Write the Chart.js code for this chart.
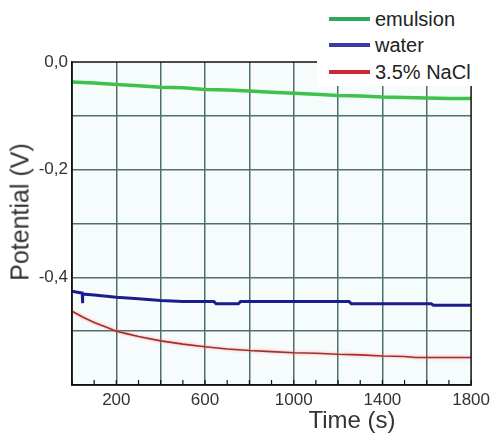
<!DOCTYPE html>
<html lang="en">
<head>
    <meta charset="UTF-8">
    <title>Potential vs time</title>
    <style>
        body {
            margin: 0;
            background: #ffffff;
            font-family: "Liberation Sans", Arial, sans-serif;
        }
        #wrap {
            position: relative;
            width: 495px;
            height: 436px;
        }
        .legend {
            position: absolute;
            left: 317px;
            top: 0;
            width: 178px;
            height: 86px;
            background: #ffffff;
        }
        .legend div {
            position: absolute;
            left: 12px;
            height: 22px;
            font-size: 20px;
            line-height: 22px;
            color: #222;
            white-space: nowrap;
        }
        .legend span {
            display: inline-block;
            width: 41px;
            height: 4px;
            vertical-align: middle;
            margin-right: 5px;
            margin-top: -3px;
        }
        .ytitle {
            position: absolute;
            left: 20px;
            top: 212px;
            transform: translate(-50%, -50%) rotate(-90deg);
            font-size: 25px;
            color: #333;
            white-space: nowrap;
        }
        .xtitle {
            position: absolute;
            left: 352px;
            top: 420px;
            transform: translate(-50%, -50%);
            font-size: 24px;
            color: #333;
            white-space: nowrap;
        }
    </style>
    <script src="https://cdn.jsdelivr.net/npm/chart.js"></script>
</head>
<body>
<div id="wrap">
    <canvas id="potentialChart" width="495" height="436"></canvas>
    <div class="legend" id="legend"></div>
    <div class="ytitle">Potential (V)</div>
    <div class="xtitle">Time (s)</div>
</div>

<script>
    // data (time in s, potential in V)
    const emulsionTime = [0, 100, 200, 300, 400, 500, 600, 700, 800, 900, 1000, 1100, 1200, 1300, 1400, 1500, 1600, 1700, 1800];
    const emulsionPot = [-0.037, -0.039, -0.042, -0.044, -0.047, -0.048, -0.051, -0.052, -0.054, -0.056, -0.058, -0.060, -0.062, -0.063, -0.065, -0.066, -0.067, -0.068, -0.068];

    const waterTime = [0, 30, 46, 47, 49, 100, 200, 300, 400, 500, 640, 650, 750, 760, 1000, 1250, 1260, 1620, 1630, 1800];
    const waterPot = [-0.426, -0.428, -0.429, -0.448, -0.431, -0.433, -0.437, -0.440, -0.443, -0.445, -0.445, -0.449, -0.449, -0.445, -0.445, -0.445, -0.449, -0.449, -0.452, -0.452];

    const naclTime = [0, 50, 100, 150, 200, 250, 300, 400, 500, 600, 700, 800, 900, 1000, 1100, 1200, 1300, 1400, 1500, 1550, 1800];
    const naclPot = [-0.463, -0.474, -0.484, -0.492, -0.500, -0.505, -0.510, -0.518, -0.524, -0.529, -0.533, -0.536, -0.538, -0.540, -0.541, -0.543, -0.544, -0.546, -0.547, -0.549, -0.549];

    const seriesNames = ['emulsion', 'water', '3.5% NaCl'];
    const lineColors = ['#3fc24c', '#1c1c8e', '#a42e2e'];
    const legendColors = ['#2ea85a', '#3a3aa8', '#cc2a36'];

    const xTickLabels = [200, 600, 1000, 1400, 1800];
    const yTickLabels = [0, -0.2, -0.4];

    const gridColor = '#4f6e6e';

    function points(t, v) {
        return t.map((x, i) => ({ x: x, y: v[i] }));
    }

    // html legend on a white box over the top right corner
    let legend = document.getElementById('legend');
    seriesNames.forEach((name, i) => {
        let row = document.createElement('div');
        row.style.top = [8, 34, 61][i] + 'px';
        row.innerHTML = '<span style="background:' + legendColors[i] + '"></span>' + name;
        legend.appendChild(row);
    });

    const frame = {
        id: 'frame',
        beforeDraw(chart) {
            let a = chart.chartArea, ctx = chart.ctx;
            ctx.save();
            ctx.fillStyle = '#f6fcfc';
            ctx.fillRect(a.left, a.top, a.right - a.left, a.bottom - a.top);
            ctx.restore();
        },
        beforeDatasetDraw(chart, args) {
            if (args.index === 2) {
                chart.ctx.save();
                chart.ctx.shadowColor = 'rgba(255, 110, 110, 0.7)';
                chart.ctx.shadowBlur = 3;
            }
        },
        afterDatasetDraw(chart, args) {
            if (args.index === 2) chart.ctx.restore();
        },
        afterDraw(chart) {
            let a = chart.chartArea, ctx = chart.ctx;
            let xs = chart.scales.x;
            ctx.save();
            ctx.strokeStyle = '#111';
            ctx.lineWidth = 1.5;
            ctx.strokeRect(a.left, a.top, a.right - a.left, a.bottom - a.top);
            // small inside ticks on the time axis
            ctx.lineWidth = 1.2;
            xs.ticks.forEach(t => {
                let px = xs.getPixelForValue(t.value);
                ctx.beginPath();
                ctx.moveTo(px, a.bottom);
                ctx.lineTo(px, a.bottom - 5);
                ctx.stroke();
            });
            ctx.restore();
        }
    };

    let ctx = document.getElementById('potentialChart').getContext('2d');
    new Chart(ctx, {
        type: 'line',
        data: {
            datasets: [
                { label: seriesNames[0], data: points(emulsionTime, emulsionPot), borderColor: lineColors[0], borderWidth: 3.5 },
                { label: seriesNames[1], data: points(waterTime, waterPot), borderColor: lineColors[1], borderWidth: 3 },
                { label: seriesNames[2], data: points(naclTime, naclPot), borderColor: lineColors[2], borderWidth: 1.6 }
            ]
        },
        options: {
            responsive: false,
            animation: false,
            elements: { point: { radius: 0 }, line: { tension: 0 } },
            layout: { padding: { top: 62, right: 12, left: 0, bottom: 0 } },
            plugins: { legend: { display: false }, tooltip: { enabled: false } },
            scales: {
                x: {
                    type: 'linear',
                    min: 0,
                    max: 1800,
                    afterFit(s) { s.height = 51; },
                    border: { display: true, color: '#111', width: 1.5 },
                    grid: {
                        drawTicks: false,
                        lineWidth: 1.5,
                        color: c => (c.tick && c.tick.value % 200 === 0 && c.tick.value > 0 && c.tick.value < 1800) ? gridColor : 'rgba(0,0,0,0)'
                    },
                    ticks: {
                        stepSize: 100,
                        autoSkip: false,
                        maxRotation: 0,
                        padding: 5,
                        color: '#333',
                        font: { family: '"Liberation Sans", Arial, sans-serif', size: 17 },
                        callback: v => xTickLabels.includes(v) ? String(v) : ''
                    }
                },
                y: {
                    min: -0.6,
                    max: 0,
                    afterFit(s) { s.width = 72; },
                    border: { display: true, color: '#111', width: 1.5 },
                    grid: {
                        drawTicks: false,
                        lineWidth: 1.5,
                        color: c => (c.tick && c.tick.value < -0.001 && c.tick.value > -0.599) ? gridColor : 'rgba(0,0,0,0)'
                    },
                    ticks: {
                        stepSize: 0.1,
                        autoSkip: false,
                        padding: 4,
                        color: '#333',
                        font: { family: '"Liberation Sans", Arial, sans-serif', size: 17 },
                        callback: v => yTickLabels.some(l => Math.abs(l - v) < 1e-6) ? v.toFixed(1).replace('.', ',') : ''
                    }
                }
            }
        },
        plugins: [frame]
    });
</script>
</body>
</html>
